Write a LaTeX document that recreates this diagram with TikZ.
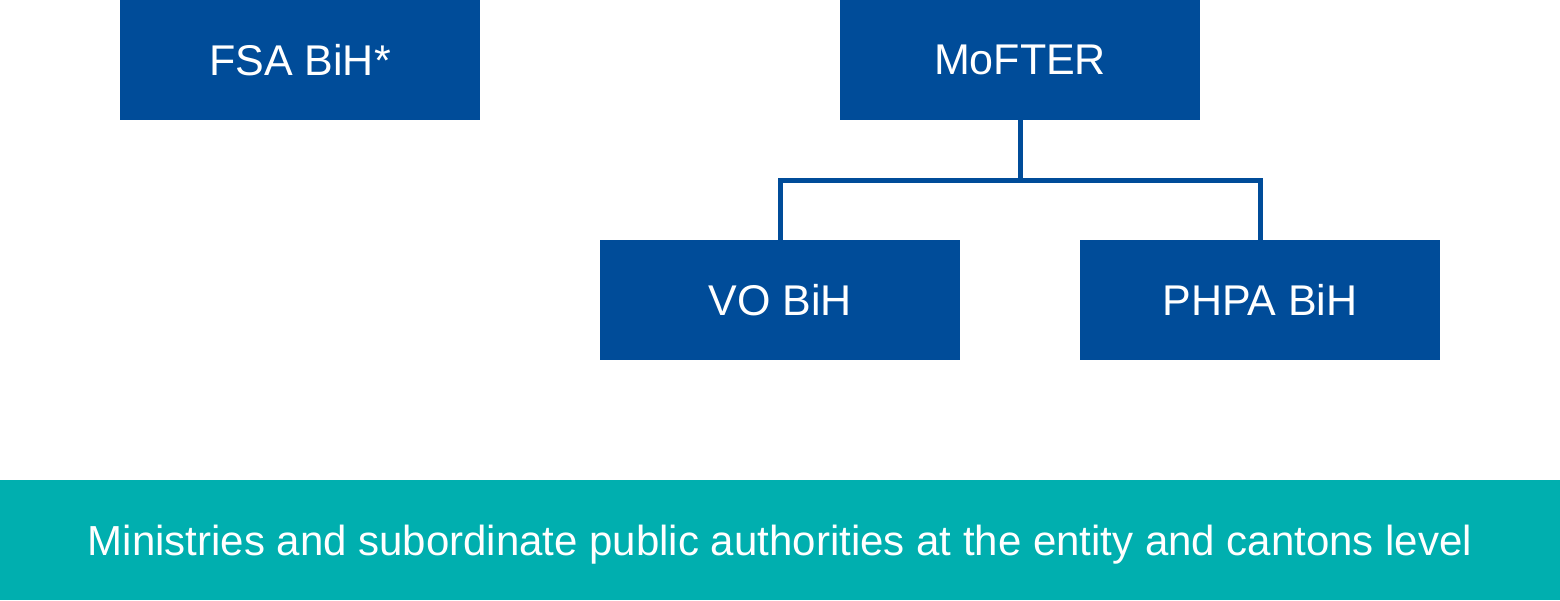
\documentclass[tikz,border=0pt]{standalone}
\usepackage{fontspec}
\setmainfont{Liberation Sans}
\definecolor{orgblue}{RGB}{0,76,153}
\definecolor{orgteal}{RGB}{0,175,175}
\begin{document}
\begin{tikzpicture}[x=1pt,y=-1pt,
  orgbox/.style={fill=orgblue,draw=none,text=white,minimum width=360pt,minimum height=120pt,inner sep=0pt,font=\fontsize{43pt}{50pt}\selectfont},
  barbox/.style={fill=orgteal,draw=none,text=white,minimum width=1560pt,minimum height=120pt,inner sep=0pt,text depth=0pt,font=\fontsize{42pt}{50pt}\selectfont},
  link/.style={draw=orgblue,line width=5pt}]
\useasboundingbox (0,0) rectangle (1560,600);
\node[orgbox] (fsa) at (300,60) {FSA BiH*};
\node[orgbox] (mofter) at (1020,60) {MoFTER};
\node[orgbox] (vo) at (780,300) {VO BiH};
\node[orgbox] (phpa) at (1260,300) {PHPA BiH};
\node[barbox] (bar) at (780,540) {Ministries and subordinate public authorities at the entity and cantons level};
\coordinate (mid) at (1020,180);
\draw[link] (mofter.south) -- (mid);
\draw[link] (vo.north) |- (mid) -| (phpa.north);
\end{tikzpicture}
\end{document}
